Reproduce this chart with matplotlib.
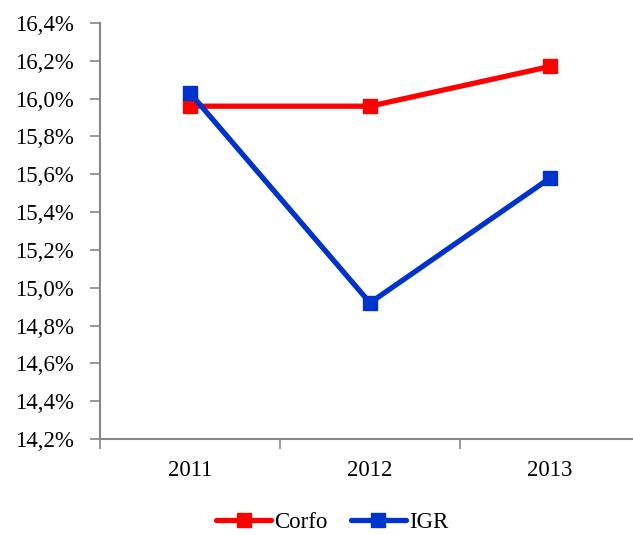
import matplotlib
matplotlib.use("Agg")
import matplotlib.pyplot as plt
from matplotlib.ticker import FixedLocator, FuncFormatter

years = ["2011", "2012", "2013"]
corfo = [15.96, 15.96, 16.17]
igr = [16.03, 14.92, 15.58]
y_ticks = [14.2, 14.4, 14.6, 14.8, 15.0, 15.2, 15.4, 15.6, 15.8, 16.0, 16.2, 16.4]

plt.rcParams["font.family"] = ["Liberation Serif", "DejaVu Serif"]

W, H = 633, 535
fig = plt.figure(figsize=(W / 100, H / 100), dpi=100)
ax = fig.add_axes([100 / W, (H - 439) / H, 540 / W, 416 / H])

x = list(range(len(years)))
ax.plot(x, corfo, color="#FF0000", lw=3.8, marker="s", ms=10.5,
        solid_capstyle="round", label="Corfo", zorder=3)
ax.plot(x, igr, color="#0033CC", lw=3.8, marker="s", ms=10.5,
        solid_capstyle="round", label="IGR", zorder=4)

ax.set_xlim(-0.5, 2.5)
ax.set_ylim(14.2, 16.4)

grey = "#868686"
for s in ["top", "right"]:
    ax.spines[s].set_visible(False)
for s in ["left", "bottom"]:
    ax.spines[s].set_color(grey)
    ax.spines[s].set_linewidth(1.5)

fs = 16.5
ax.yaxis.set_major_locator(FixedLocator(y_ticks))
ax.yaxis.set_major_formatter(FuncFormatter(lambda v, p: f"{v:.1f}%".replace(".", ",")))
ax.tick_params(axis="y", direction="out", length=7, width=1.2, color=grey,
               labelsize=fs, pad=12)

ax.set_xticks(x)
ax.set_xticklabels(years)
ax.set_xticks([-0.5, 0.5, 1.5], minor=True)
ax.tick_params(axis="x", which="major", length=0, labelsize=fs, pad=15)
ax.tick_params(axis="x", which="minor", direction="out", length=7, width=1.2, color=grey)

leg = fig.legend(loc="lower center", bbox_to_anchor=(0.525, -0.035), ncol=2,
                 frameon=False, fontsize=fs, handlelength=2.4, handletextpad=0.15,
                 columnspacing=1.0)

fig.savefig("out.png", dpi=100)
